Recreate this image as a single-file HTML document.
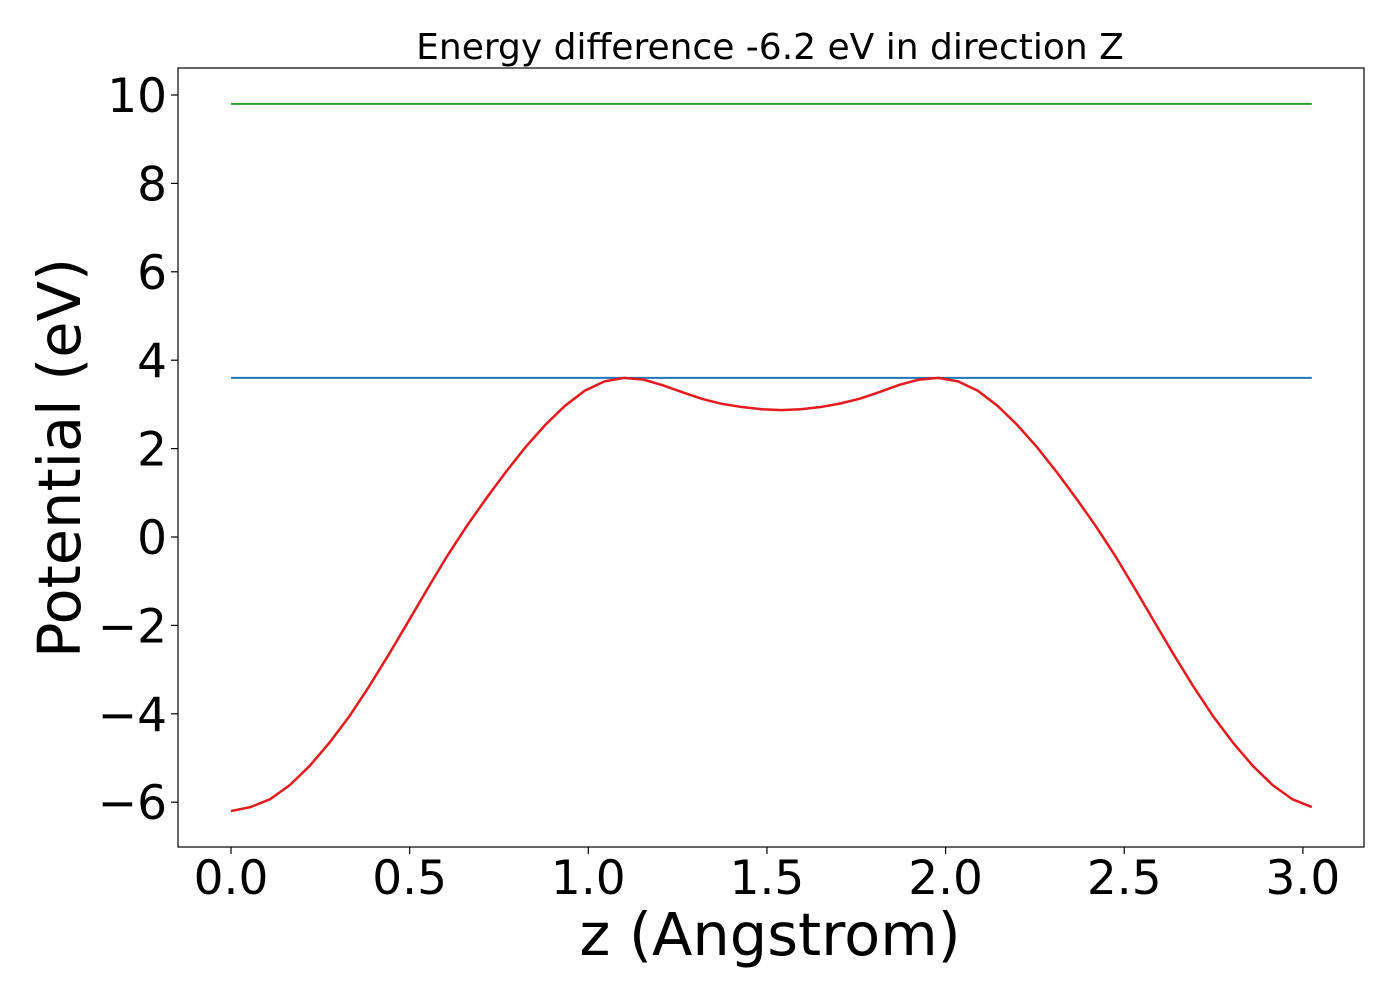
<!DOCTYPE html>
<html><head><meta charset="utf-8"><style>
body{margin:0;background:#fff}
svg text{font-family:"DejaVu Sans","Liberation Sans",sans-serif;fill:#000}
</style></head><body>
<svg id="chart" width="1400" height="1000" xmlns="http://www.w3.org/2000/svg">
<rect width="1400" height="1000" fill="#fff"/>
<g id="plot"></g>
</svg>
<script>
const zValues=[0,0.055,0.11,0.165,0.22,0.275,0.33,0.385,0.44,0.495,0.55,0.605,0.66,0.715,0.77,0.825,0.88,0.935,0.99,1.045,1.1,1.155,1.21,1.265,1.32,1.375,1.43,1.485,1.54,1.595,1.65,1.705,1.76,1.815,1.87,1.925,1.98,2.035,2.09,2.145,2.2,2.255,2.31,2.365,2.42,2.475,2.53,2.585,2.64,2.695,2.75,2.805,2.86,2.915,2.97,3.025];
const potential=[-6.2,-6.11,-5.93,-5.61,-5.18,-4.66,-4.07,-3.4,-2.68,-1.93,-1.17,-0.43,0.25,0.88,1.48,2.04,2.54,2.97,3.31,3.52,3.6,3.56,3.43,3.27,3.12,3.01,2.94,2.89,2.87,2.89,2.94,3.02,3.13,3.28,3.44,3.56,3.6,3.52,3.31,2.97,2.54,2.04,1.48,0.88,0.25,-0.43,-1.17,-1.93,-2.68,-3.4,-4.07,-4.66,-5.18,-5.61,-5.93,-6.11];
const levelValues=[9.8,3.6];
const levelColors=["#2ca02c","#1f77b4"];
const xTicks=[0,0.5,1.0,1.5,2.0,2.5,3.0];
const xTickLabels=["0.0","0.5","1.0","1.5","2.0","2.5","3.0"];
const yTicks=[10,8,6,4,2,0,-2,-4,-6];
const yTickLabels=["10","8","6","4","2","0","\u22122","\u22124","\u22126"];

const L=178,R=1364,T=68,B=847;
const xs=z=>231+z*357.3;
const ys=v=>537-v*44.2;
const NS="http://www.w3.org/2000/svg";
const g=document.getElementById('plot');
function mk(tag,attrs,name){const e=document.createElementNS(NS,tag);for(const k in attrs)e.setAttribute(k,attrs[k]);


g.appendChild(e);return e;}

levelValues.forEach((v,i)=>{mk('line',{x1:xs(0),x2:xs(3.025),y1:ys(v),y2:ys(v),stroke:levelColors[i],'stroke-width':2},i==0?'green-level-line':'blue-level-line');});
mk('polyline',{points:zValues.map((z,i)=>xs(z)+','+ys(potential[i])).join(' '),fill:'none',stroke:'#e41a1c','stroke-width':2.5},'potential-curve');
mk('rect',{x:L,y:T,width:R-L,height:B-T,fill:'none',stroke:'#000','stroke-width':1.2},'plot-frame');
xTicks.forEach((t,i)=>{
 mk('line',{x1:xs(t),x2:xs(t),y1:B,y2:B+7,stroke:'#000','stroke-width':1.2},'x-tick');
 const tx=mk('text',{x:xs(t),y:B+47,'font-size':47,'text-anchor':'middle'},'x-tick-label');tx.textContent=xTickLabels[i];
});
yTicks.forEach((t,i)=>{
 mk('line',{x1:L-7,x2:L,y1:ys(t),y2:ys(t),stroke:'#000','stroke-width':1.2},'y-tick');
 const tx=mk('text',{x:L-11,y:ys(t)+17,'font-size':47,'text-anchor':'end'},'y-tick-label');tx.textContent=yTickLabels[i];
});
let t=mk('text',{x:770,y:59,'font-size':36,'text-anchor':'middle'},'chart-title');t.textContent='Energy difference -6.2 eV in direction Z';
t=mk('text',{x:770,y:955,'font-size':59,'text-anchor':'middle'},'x-axis-title');t.textContent='z (Angstrom)';
t=mk('text',{x:0,y:0,'font-size':59,'text-anchor':'middle',transform:'translate(80,458) rotate(-90)'},'y-axis-title');t.textContent='Potential (eV)';
</script>
</body></html>
